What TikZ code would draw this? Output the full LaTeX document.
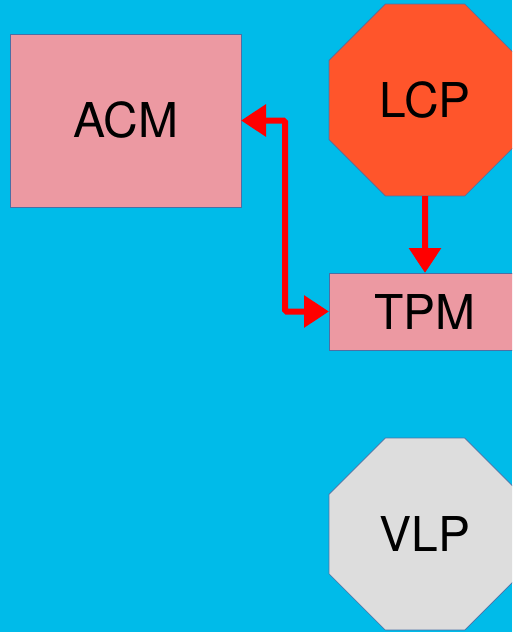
\documentclass[tikz,border=0pt]{standalone}
\usepackage{fontspec}
\setmainfont{TeX Gyre Heros}
\usetikzlibrary{shapes.geometric,arrows.meta}
\definecolor{bgcyan}{HTML}{00BBE9}
\definecolor{boxpink}{HTML}{EC99A2}
\definecolor{stopred}{HTML}{FF552B}
\definecolor{lightgrey}{HTML}{DDDDDD}
\definecolor{edgeblue}{HTML}{4A6FA5}
\begin{document}
\begin{tikzpicture}[x=1pt,y=-1pt,
  block/.style={draw=edgeblue,line width=0.7pt,inner sep=0pt,outer sep=0pt,
    font=\fontsize{48}{48}\selectfont},
  rectblock/.style={block,rectangle,fill=boxpink},
  octblock/.style={block,regular polygon,regular polygon sides=8,minimum size=207.8pt},
  link/.style={draw=red,line width=6pt,-{Triangle[length=25pt,width=31pt]}},
  duallink/.style={draw=red,line width=6pt,rounded corners=1.5pt,
    {Triangle[length=25pt,width=31pt]}-{Triangle[length=25pt,width=31pt]}}]
  \clip (0,0) rectangle (512,632);
  \fill[bgcyan] (0,0) rectangle (512,632);
  \useasboundingbox (0,0) rectangle (512,632);

  \node[rectblock,minimum width=231pt,minimum height=173pt] (acm) at (125.5,120.5) {ACM};
  \node[octblock,fill=stopred] (lcp) at (425,100) {LCP};
  \node[rectblock,minimum width=192pt,minimum height=77pt] (tpm) at (425,311.5) {TPM};
  \node[octblock,fill=lightgrey] (vlp) at (425,534) {VLP};

  \draw[link] (lcp.south) -- (tpm.north);
  \draw[duallink] (acm.east |- 0,120.5) -- (285,120.5) |- (tpm.west);
\end{tikzpicture}
\end{document}
